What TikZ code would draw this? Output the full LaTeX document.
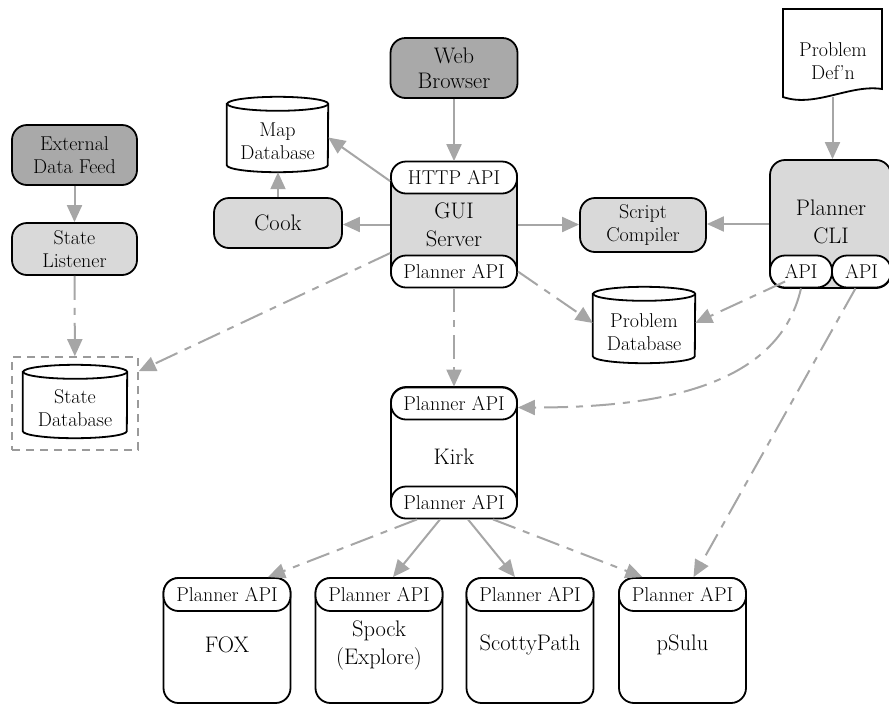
\documentclass[tikz,border=0pt]{standalone}
\usepackage{fontspec}
\usetikzlibrary{arrows.meta}

\definecolor{linkgray}{HTML}{A6A6A6}
\definecolor{darkfill}{HTML}{A9A9A9}
\definecolor{lightfill}{HTML}{D9D9D9}
\definecolor{framegray}{HTML}{9A9A9A}

\newcommand\bigfont{\fontsize{22.5}{28}\selectfont}
\newcommand\midfont{\fontsize{20}{23}\selectfont}

% database cylinder: name, x, y, width, body height, text
\newcommand\dbcyl[6]{%
  \node[dbbody, minimum width=#4pt, minimum height=#5pt] (#1) at (#2,#3) {};
  \path[dbshape] ([yshift=7pt]#1.north west) -- ([yshift=7pt]#1.south west)
    arc[start angle=180, end angle=360, x radius=#4pt/2, y radius=7pt]
    -- ([yshift=7pt]#1.north east)
    arc[start angle=0, end angle=180, x radius=#4pt/2, y radius=7pt] -- cycle;
  \draw[dbline] ([yshift=7pt]#1.north east)
    arc[start angle=0, end angle=-180, x radius=#4pt/2, y radius=7pt];
  \node[dbtext] (#1txt) at (#1) {#6};
}

\tikzset{
  box/.style={draw, line width=1.8pt, rounded corners=15pt, align=center,
    inner sep=0pt, font=\midfont},
  pill/.style={draw, line width=1.8pt, rounded corners=15pt, fill=white,
    minimum height=32pt, inner sep=0pt, font=\midfont},
  bodytext/.style={align=center, font=\bigfont, inner sep=0pt},
  dbbody/.style={inner sep=0pt},
  dbshape/.style={draw, fill=white, line width=1.8pt},
  dbline/.style={line width=1.8pt},
  dbtext/.style={align=center, font=\midfont, inner sep=0pt},
  link/.style={draw=linkgray, line width=2pt, -{Triangle[length=17pt,width=15pt]}},
  dlink/.style={link, dash pattern=on 24pt off 8pt on 7pt off 8pt},
}

\begin{document}
\begin{tikzpicture}[x=1pt, y=1pt]
\useasboundingbox (0,0) rectangle (889,-705);

% ---- top row sources
\node[box, fill=darkfill, font=\bigfont, minimum width=127pt, minimum height=60pt]
  (web) at (454,-68) {Web\\[-3pt]Browser};

\node[inner sep=0pt, minimum width=99pt, minimum height=88pt] (docn) at (832.5,-53) {};
\draw[line width=1.8pt, fill=white] (783,-9) -- (882,-9) -- (882,-89)
  .. controls (850,-84) and (815,-108) .. (783,-97) -- cycle;
\node[dbtext] (docntxt) at (833,-61) {Problem\\Def’n};

\node[box, fill=darkfill, minimum width=125pt, minimum height=60pt]
  (ext) at (74.5,-155) {External\\Data Feed};
\node[box, fill=lightfill, minimum width=125pt, minimum height=52pt]
  (listener) at (74.5,-249) {State\\Listener};

% ---- databases
\dbcyl{mapdb}{277.5}{-141.5}{101}{61}{Map\\Database}
\dbcyl{probdb}{644}{-332}{102}{62}{Problem\\Database}
\node[draw=framegray, line width=1.6pt, dash pattern=on 8pt off 6pt,
  minimum width=126pt, minimum height=93pt] (stateframe) at (75,-403.5) {};
\dbcyl{statedb}{75}{-408.5}{104}{59}{State\\Database}

\node[box, fill=lightfill, font=\bigfont, minimum width=128pt, minimum height=50pt]
  (cook) at (278,-223) {Cook};
\node[box, fill=lightfill, minimum width=126pt, minimum height=54pt]
  (script) at (643,-225) {Script\\Compiler};

% ---- GUI server
\node[box, fill=lightfill, minimum width=126pt, minimum height=125pt] (gui) at (454,-224.5) {};
\node[pill, minimum width=126pt] (guihttp) at (454,-177.5) {HTTP API};
\node[pill, minimum width=126pt] (guiapi) at (454,-271.5) {Planner API};
\node[bodytext] (guitxt) at (454,-224.5) {GUI\\Server};

% ---- planner command line
\node[box, fill=lightfill, minimum width=121pt, minimum height=128pt] (cli) at (830.5,-224) {};
\node[pill, minimum width=62pt] (cliapi1) at (801,-271.5) {API};
\node[pill, minimum width=59pt] (cliapi2) at (861.5,-271.5) {API};
\node[bodytext] (clitxt) at (831,-222) {Planner\\CLI};

% ---- Kirk
\node[box, minimum width=126pt, minimum height=131pt] (kirk) at (454,-452.5) {};
\node[pill, minimum width=126pt] (kirkin) at (454,-403.5) {Planner API};
\node[pill, minimum width=126pt] (kirkout) at (454,-502.5) {Planner API};
\node[bodytext] (kirktxt) at (454,-457) {Kirk};

% ---- planners
\foreach \nm/\cx/\txt in {fox/227/FOX, spock/379/Spock\\(Explore), scotty/530/ScottyPath, psulu/682.5/pSulu}{
  \node[box, minimum width=127pt, minimum height=125pt] (\nm) at (\cx,-640.5) {};
  \node[pill, minimum width=127pt, minimum height=33pt] (\nm api) at (\cx,-594.5) {Planner API};
  \node[bodytext] (\nm txt) at (\cx,-645) {\txt};
}

% ---- connectors
\draw[link] (web) -- (gui);
\draw[link] (docn.south) -- (docn.south |- cli.north);
\draw[link] (ext) -- (listener);
\draw[dlink] (listener) -- (stateframe);
\draw[link] ([yshift=-20pt]gui.north west) -- ([yshift=4pt]mapdb.east);
\draw[link] (cook.north) -- (cook.north |- mapdb.south);
\draw[link] (gui.west) -- (gui.west -| cook.east);
\draw[link] (gui.east) -- (gui.east -| script.west);
\draw[link] (cli.west) -- (cli.west -| script.east);
\draw[dlink] ([yshift=-92pt]gui.north west) -- ([yshift=-15pt]stateframe.north east);
\draw[dlink] (guiapi.east) -- ([yshift=9pt]probdb.west);
\draw[dlink] ([xshift=16pt,yshift=-10pt]cliapi1.west) -- ([yshift=9pt]probdb.east);
\draw[dlink] (cliapi1.south) .. controls (778,-390) and (650,-407.5) .. ([yshift=-4pt]kirkin.east);
\draw[dlink] ([xshift=-6pt]cliapi2.south) -- ([xshift=11pt]psuluapi.north);
\draw[dlink] (guiapi.south) -- (kirkin.north);
\draw[dlink] ([xshift=-37pt]kirkout.south) -- ([xshift=41pt]foxapi.north);
\draw[link] ([xshift=-14pt]kirkout.south) -- ([xshift=14pt]spockapi.north);
\draw[link] ([xshift=14pt]kirkout.south) -- ([xshift=-15pt]scottyapi.north);
\draw[dlink] ([xshift=39pt]kirkout.south) -- ([xshift=-40pt]psuluapi.north);
\end{tikzpicture}
\end{document}
